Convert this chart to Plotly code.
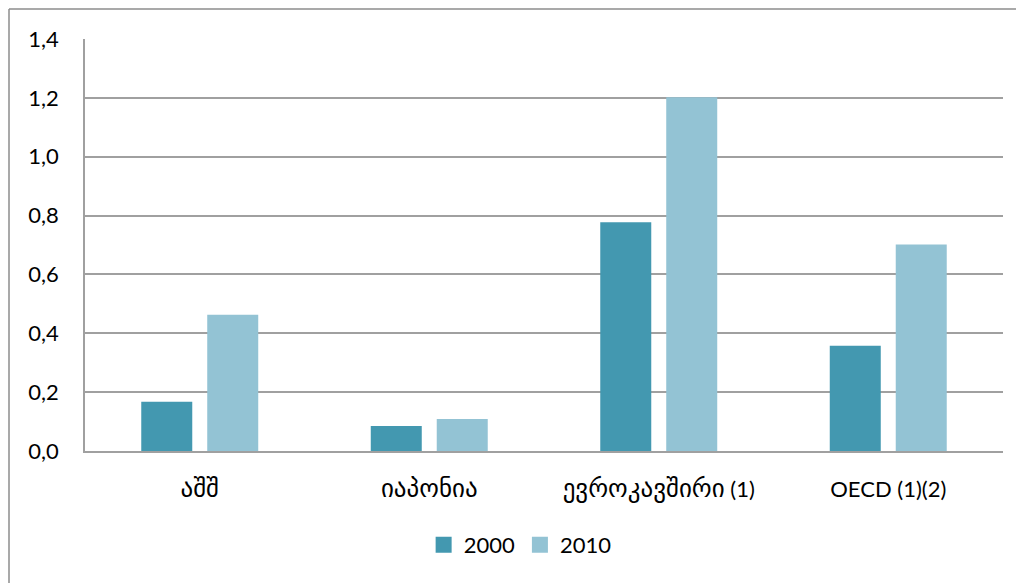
import re
import plotly.graph_objects as go

categories = ["აშშ", "იაპონია", "ევროკავშირი (1)", "OECD (1)(2)"]
values_2000 = [0.167, 0.085, 0.777, 0.358]
values_2010 = [0.463, 0.109, 1.202, 0.702]
series_names = ["2000", "2010"]
colors = ["#4398B0", "#93C3D4"]

L, R, T, B = 77, 29, 31, 140
W, H = 1024, 583
pw = W - L - R
ph = H - T - B

font_fam = "Lato, DejaVu Sans, sans-serif"


def fmt_label(s):
    # Georgian script rendered slightly larger to match the reference
    return re.sub(r"([\u10A0-\u10FF]+)", r"<span style='font-size:25px'>\1</span>", s)


fig = go.Figure()
for name, vals, col in zip(series_names, [values_2000, values_2010], colors):
    fig.add_trace(go.Bar(x=categories, y=vals, name=name, showlegend=False,
                         marker=dict(color=col, line=dict(width=0))))
for name, col in zip(series_names, colors):
    fig.add_trace(go.Scatter(x=[None], y=[None], mode="markers", name=name,
                             marker=dict(symbol="square", size=16, color=col)))

fig.update_layout(
    width=W, height=H,
    margin=dict(l=L, r=R, t=T, b=B, autoexpand=False),
    paper_bgcolor="white", plot_bgcolor="white",
    barmode="group", bargap=0.425, bargroupgap=0.227,
    separators=",.",
    font=dict(family=font_fam, size=22, color="#000000"),
    legend=dict(orientation="h", x=0.474, xanchor="center", y=-0.228, yanchor="middle",
                font=dict(size=22), traceorder="normal", itemwidth=30),
    showlegend=True,
)
fig.update_yaxes(range=[0, 1.4], dtick=0.2, tickformat=".1f",
                 showgrid=True, gridcolor="#A0A0A0", gridwidth=1.5,
                 showline=True, linecolor="#A0A0A0", linewidth=1.5,
                 zeroline=False, ticks="", ticklabelstandoff=20,
                 tickfont=dict(size=22))
fig.update_xaxes(showline=True, linecolor="#A0A0A0", linewidth=1.5,
                 tickmode="array", tickvals=categories,
                 ticktext=[fmt_label(c) for c in categories],
                 ticks="", ticklabelstandoff=18, tickfont=dict(size=22))

# outer chart frame (left and top edges visible)
fx0 = (1 - L) / pw
fy1 = 1 + (T - 1) / ph
fig.add_shape(type="line", xref="paper", yref="paper", x0=fx0, x1=fx0, y0=fy1, y1=-B / ph - 0.1,
              line=dict(color="#8C8C8C", width=1.5))
fig.add_shape(type="line", xref="paper", yref="paper", x0=fx0, x1=(W - L + 10) / pw, y0=fy1, y1=fy1,
              line=dict(color="#8C8C8C", width=1.5))

fig.write_html("out.html")
